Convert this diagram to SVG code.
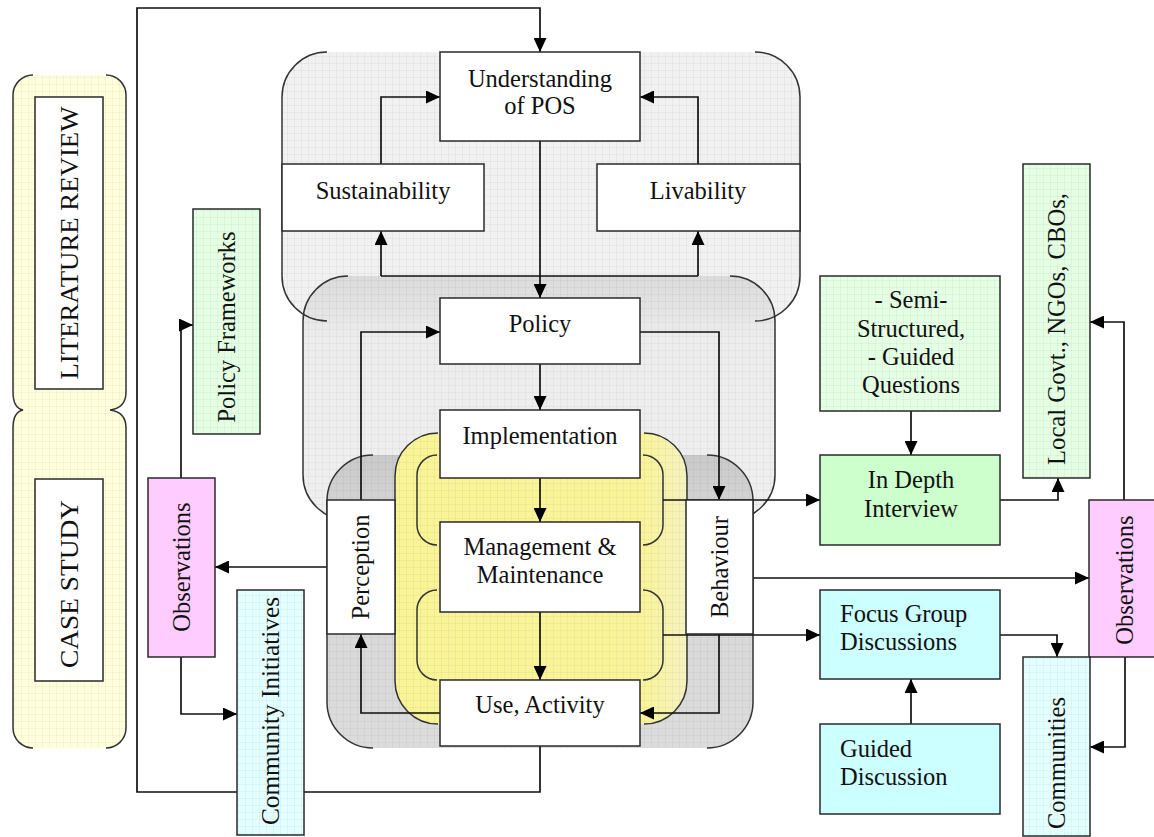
<svg xmlns="http://www.w3.org/2000/svg" width="1154" height="837" viewBox="0 0 1154 837">
<style>
.t{font-family:"Liberation Serif","Times New Roman",serif;font-size:24.5px;fill:#111}
.c{text-anchor:middle}
.box{stroke:#2a2a2a;stroke-width:1.5}
.w{fill:#fff}
.edge{fill:none;stroke:#333;stroke-width:1.5}
.cn{fill:none;stroke:#111;stroke-width:1.7}
.ar{marker-end:url(#ah)}
.g{fill:url(#grid);stroke:none}
</style>
<defs>
<pattern id="grid" width="7" height="7" patternUnits="userSpaceOnUse"><path d="M7 0H0V7" fill="none" stroke="#000" stroke-opacity="0.07" stroke-width="1"/></pattern>
<marker id="ah" viewBox="0 0 14 13" refX="14" refY="6.5" markerWidth="14" markerHeight="13" markerUnits="userSpaceOnUse" orient="auto"><path d="M0,0 L14,6.5 L0,13 z" fill="#000"/></marker>
<linearGradient id="gMid" x1="0" y1="0" x2="0" y2="1"><stop offset="0" stop-color="#d9d9d9"/><stop offset="0.25" stop-color="#ebebeb"/><stop offset="1" stop-color="#eeeeee"/></linearGradient>
<linearGradient id="gDark" x1="0" y1="0" x2="0" y2="1"><stop offset="0" stop-color="#c9c9c9"/><stop offset="0.2" stop-color="#d6d6d6"/><stop offset="1" stop-color="#dcdcdc"/></linearGradient>
<linearGradient id="gYel" x1="0" y1="0" x2="1" y2="0"><stop offset="0" stop-color="#f9f496"/><stop offset="0.85" stop-color="#f9f49a"/><stop offset="1" stop-color="#f6f2c0"/></linearGradient>
</defs>

<!-- containers -->
<g id="containers">
  <g id="lit-case-frame">
    <path d="M33,75 H106 A20,20 0 0 1 126,95 V392 Q126,408 110,410 Q126,412 126,428 V728 A20,20 0 0 1 106,748 H33 A20,20 0 0 1 13,728 V428 Q13,412 23,410 Q13,408 13,392 V95 A20,20 0 0 1 33,75 Z" fill="#ffffdc"/>
    <path d="M33,75 H106 A20,20 0 0 1 126,95 V392 Q126,408 110,410 Q126,412 126,428 V728 A20,20 0 0 1 106,748 H33 A20,20 0 0 1 13,728 V428 Q13,412 23,410 Q13,408 13,392 V95 A20,20 0 0 1 33,75 Z" class="g"/>
    <path class="edge" d="M33,75 A20,20 0 0 0 13,95 V392 Q13,408 23,410 Q13,412 13,428 V728 A20,20 0 0 0 33,748"/>
    <path class="edge" d="M106,75 A20,20 0 0 1 126,95 V392 Q126,408 110,410 Q126,412 126,428 V728 A20,20 0 0 1 106,748"/>
  </g>
  <g id="c-top">
    <rect x="282" y="52" width="518" height="269" rx="45" fill="#f1f1f1"/>
    <rect x="282" y="52" width="518" height="269" rx="45" class="g"/>
  </g>
  <g id="c-mid">
    <rect x="303" y="276" width="472" height="244" rx="45" fill="url(#gMid)" fill-opacity="0.92"/>
    <rect x="303" y="276" width="472" height="244" rx="45" class="g"/>
  </g>
  <g id="c-dark">
    <rect x="327" y="455" width="426" height="293" rx="46" fill="url(#gDark)"/>
    <rect x="327" y="455" width="426" height="293" rx="46" class="g"/>
  </g>
  <g id="c-yellow">
    <rect x="395" y="433" width="292" height="291" rx="43" fill="url(#gYel)"/>
    <rect x="395" y="433" width="292" height="291" rx="43" class="g"/>
  </g>
  <g id="container-edges">
    <path class="edge" d="M327,52 A45,45 0 0 0 282,97 V276 A45,45 0 0 0 327,321"/>
    <path class="edge" d="M755,52 A45,45 0 0 1 800,97 V276 A45,45 0 0 1 755,321"/>
    <path class="edge" d="M348,276 A45,45 0 0 0 303,321 V475 A45,45 0 0 0 348,520"/>
    <path class="edge" d="M730,276 A45,45 0 0 1 775,321 V475 A45,45 0 0 1 730,520"/>
    <path class="edge" d="M373,455 A46,46 0 0 0 327,501 V702 A46,46 0 0 0 373,748"/>
    <path class="edge" d="M707,455 A46,46 0 0 1 753,501 V702 A46,46 0 0 1 707,748"/>
    <path class="edge" d="M438,433 A43,43 0 0 0 395,476 V681 A43,43 0 0 0 438,724"/>
    <path class="edge" d="M644,433 A43,43 0 0 1 687,476 V681 A43,43 0 0 1 644,724"/>
    <path class="edge" d="M437,455 A20,20 0 0 0 417,475 V525 A20,20 0 0 0 437,545 M437,590 A20,20 0 0 0 417,610 V660 A20,20 0 0 0 437,680"/>
    <path class="edge" d="M643,455 A20,20 0 0 1 663,475 V525 A20,20 0 0 1 643,545 M643,590 A20,20 0 0 1 663,610 V660 A20,20 0 0 1 643,680"/>
  </g>
</g>

<!-- connectors -->
<g id="connectors">
  <path class="cn ar" d="M540,746 V792 H137 V8 H540 V52"/>
  <path class="cn ar" d="M381,164 V97 H440"/>
  <path class="cn ar" d="M698,164 V97 H640"/>
  <path class="cn ar" d="M540,141 V298"/>
  <path class="cn" d="M381,276 H698"/>
  <path class="cn ar" d="M381,276 V231"/>
  <path class="cn ar" d="M698,276 V231"/>
  <path class="cn ar" d="M361,500 V332 H440"/>
  <path class="cn ar" d="M640,332 H719 V500"/>
  <path class="cn ar" d="M540,364 V410"/>
  <path class="cn ar" d="M540,478 V522"/>
  <path class="cn ar" d="M540,612 V680"/>
  <path class="cn ar" d="M440,713 H361 V634"/>
  <path class="cn ar" d="M719,634 V713 H640"/>
  <path class="cn ar" d="M327,567 H215"/>
  <path class="cn ar" d="M181,478 V325 H193"/>
  <path class="cn ar" d="M181,657 V714 H237"/>
  <path class="cn ar" d="M663,500 H820"/>
  <path class="cn ar" d="M753,578 H1089"/>
  <path class="cn ar" d="M663,635 H820"/>
  <path class="cn ar" d="M911,411 V455"/>
  <path class="cn ar" d="M1000,500 H1058 V478"/>
  <path class="cn ar" d="M1124,500 V322 H1090"/>
  <path class="cn ar" d="M911,724 V679"/>
  <path class="cn ar" d="M1000,635 H1057 V657"/>
  <path class="cn ar" d="M1125,657 V747 H1090"/>
</g>

<!-- nodes -->
<g id="n-literature"><rect class="box w" x="35" y="97" width="68" height="292"/><text class="t c" transform="translate(69,243) rotate(-90)" y="9" font-size="25" textLength="273" lengthAdjust="spacingAndGlyphs">LITERATURE REVIEW</text></g>
<g id="n-casestudy"><rect class="box w" x="35" y="479" width="68" height="202"/><text class="t c" transform="translate(69,584) rotate(-90)" y="9" font-size="25" textLength="168" lengthAdjust="spacingAndGlyphs">CASE STUDY</text></g>
<g id="n-policyfw"><rect class="box" x="193" y="209" width="67" height="225" fill="#e4ffe4"/><rect class="g" x="193" y="209" width="67" height="225"/><text class="t c" transform="translate(227,327) rotate(-90)" y="8" textLength="191" lengthAdjust="spacingAndGlyphs">Policy Frameworks</text></g>
<g id="n-obs-left"><rect class="box" x="148" y="478" width="67" height="179" fill="#ffccff"/><text class="t c" transform="translate(181.5,567) rotate(-90)" y="8" font-size="23">Observations</text></g>
<g id="n-community-init"><rect class="box" x="237" y="590" width="67" height="245" fill="#e4ffff"/><rect class="g" x="237" y="590" width="67" height="245"/><text class="t c" transform="translate(270.5,711) rotate(-90)" y="8" textLength="228" lengthAdjust="spacingAndGlyphs">Community Initiatives</text></g>
<g id="n-understanding"><rect class="box w" x="440" y="52" width="200" height="89"/><text class="t c" x="540" y="87">Understanding</text><text class="t c" x="540" y="114">of POS</text></g>
<g id="n-sustainability"><rect class="box w" x="282" y="164" width="202" height="67"/><text class="t c" x="383" y="199">Sustainability</text></g>
<g id="n-livability"><rect class="box w" x="597" y="164" width="203" height="67"/><text class="t c" x="698" y="199">Livability</text></g>
<g id="n-policy"><rect class="box w" x="440" y="298" width="200" height="66"/><text class="t c" x="540" y="332">Policy</text></g>
<g id="n-implementation"><rect class="box w" x="440" y="410" width="200" height="68"/><text class="t c" x="540" y="444">Implementation</text></g>
<g id="n-management"><rect class="box w" x="440" y="522" width="200" height="90"/><text class="t c" x="540" y="555">Management &amp;</text><text class="t c" x="540" y="583">Maintenance</text></g>
<g id="n-use"><rect class="box w" x="440" y="680" width="200" height="66"/><text class="t c" x="540" y="713">Use, Activity</text></g>
<g id="n-perception"><rect class="box w" x="327" y="500" width="68" height="134"/><text class="t c" transform="translate(361,567) rotate(-90)" y="8">Perception</text></g>
<g id="n-behaviour"><rect class="box w" x="686" y="500" width="67" height="134"/><text class="t c" transform="translate(719.5,567) rotate(-90)" y="8">Behaviour</text></g>
<g id="n-semi"><rect class="box" x="820" y="276" width="180" height="135" fill="#e4ffe4"/><rect class="g" x="820" y="276" width="180" height="135"/><text class="t c" x="911" y="308">- Semi-</text><text class="t c" x="911" y="337">Structured,</text><text class="t c" x="911" y="365">- Guided</text><text class="t c" x="911" y="393">Questions</text></g>
<g id="n-indepth"><rect class="box" x="820" y="455" width="180" height="90" fill="#ccffcc"/><text class="t c" x="911" y="488">In Depth</text><text class="t c" x="911" y="517">Interview</text></g>
<g id="n-localgovt"><rect class="box" x="1023" y="164" width="67" height="314" fill="#e4ffe4"/><rect class="g" x="1023" y="164" width="67" height="314"/><text class="t c" transform="translate(1056.5,329) rotate(-90)" y="8" textLength="272" lengthAdjust="spacingAndGlyphs">Local Govt., NGOs, CBOs,</text></g>
<g id="n-obs-right"><rect class="box" x="1089" y="500" width="72" height="157" fill="#ffccff"/><text class="t c" transform="translate(1125,580) rotate(-90)" y="8" font-size="23">Observations</text></g>
<g id="n-focus"><rect class="box" x="820" y="590" width="180" height="89" fill="#ccffff"/><text class="t" x="840" y="622">Focus Group</text><text class="t" x="840" y="650">Discussions</text></g>
<g id="n-guided"><rect class="box" x="820" y="724" width="180" height="90" fill="#ccffff"/><text class="t" x="840" y="757">Guided</text><text class="t" x="840" y="785">Discussion</text></g>
<g id="n-communities"><rect class="box" x="1023" y="657" width="67" height="179" fill="#e4ffff"/><rect class="g" x="1023" y="657" width="67" height="179"/><text class="t c" transform="translate(1056.5,763) rotate(-90)" y="8">Communities</text></g>
</svg>
